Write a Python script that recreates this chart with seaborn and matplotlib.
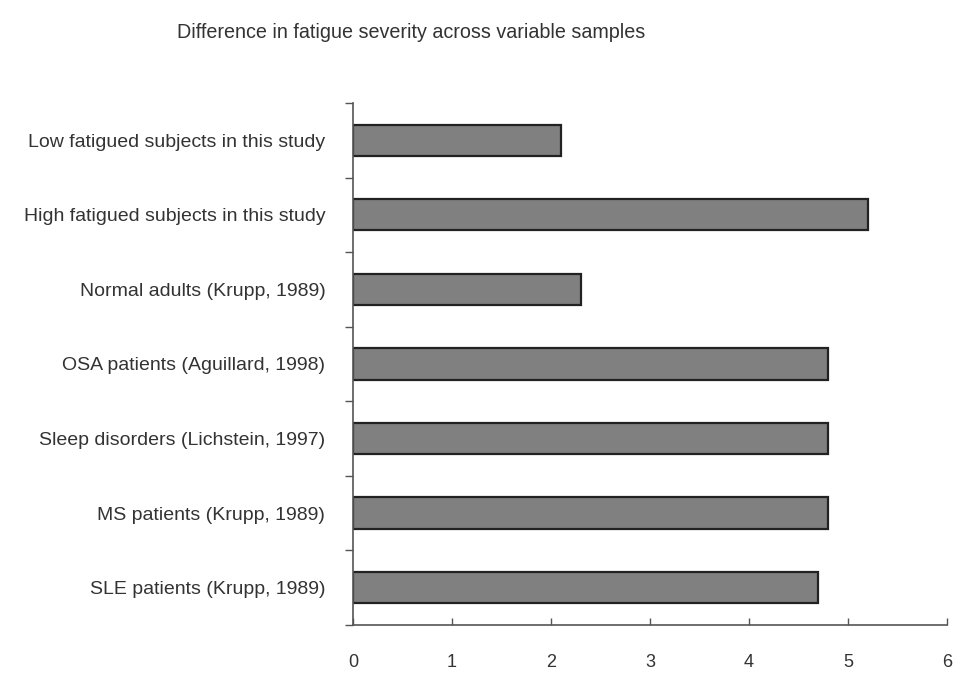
import numpy as np
import pandas as pd
import matplotlib
matplotlib.use('Agg')
import matplotlib.pyplot as plt
import seaborn as sns

# Fatigue severity by sample
groups = ['Low fatigued subjects in this study',
          'High fatigued subjects in this study',
          'Normal adults (Krupp, 1989)',
          'OSA patients (Aguillard, 1998)',
          'Sleep disorders (Lichstein, 1997)',
          'MS patients (Krupp, 1989)',
          'SLE patients (Krupp, 1989)']
scores = [2.1, 5.2, 2.3, 4.8, 4.8, 4.8, 4.7]
x_ticks = [0, 1, 2, 3, 4, 5, 6]

df = pd.DataFrame({'Group': groups, 'Score': scores})

sns.set_style('white')
plt.rcParams['font.family'] = ['Liberation Sans', 'DejaVu Sans']

fig = plt.figure(figsize=(9.68, 6.86), dpi=100)
ax = fig.add_axes([0.3647, 0.0889, 0.6135, 0.761])

sns.barplot(data=df, x='Score', y='Group', orient='h', color='#808080',
            saturation=1, width=0.42, edgecolor='#222222', linewidth=1.6, ax=ax)

ax.set_xlim(0, 6)
ax.set_ylim(len(groups) - 0.5, -0.5)
ax.set_xticks(x_ticks)
ax.set_xticklabels([str(t) for t in x_ticks], fontsize=13, color='#333333')
ax.set_xlabel('')
ax.set_ylabel('')
ax.tick_params(axis='x', direction='in', length=5, width=1, color='#555555', pad=21, bottom=True)
ax.tick_params(axis='y', which='major', length=0, pad=20, labelsize=14, labelcolor='#333333')
ax.set_yticks(np.arange(len(groups) + 1) - 0.5, minor=True)
ax.tick_params(axis='y', which='minor', direction='out', length=6, width=1, color='#555555', left=True)

sns.despine(ax=ax)
for s in ['left', 'bottom']:
    ax.spines[s].set_color('#555555')
    ax.spines[s].set_linewidth(1.2)

fig.text(0.425, 0.953, 'Difference in fatigue severity across variable samples',
         ha='center', va='center', fontsize=14.2, color='#333333')

fig.savefig('out.png', dpi=100)
